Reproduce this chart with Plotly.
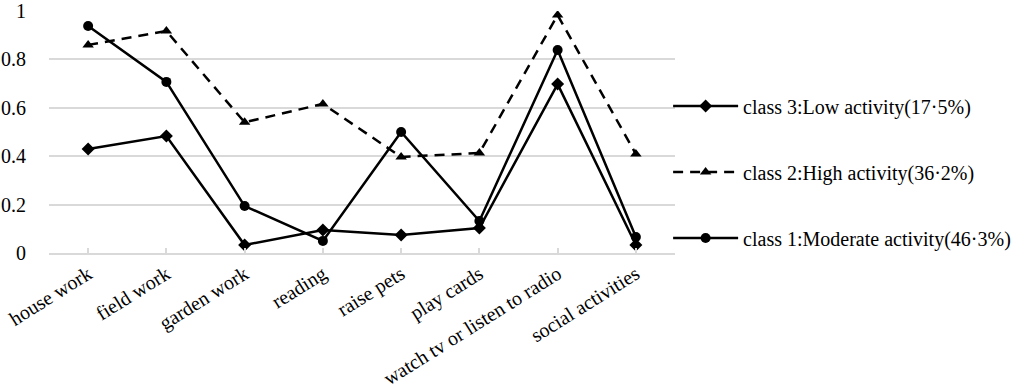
import plotly.graph_objects as go

categories = ["house work", "field work", "garden work", "reading", "raise pets",
              "play cards", "watch tv or listen to radio", "social activities"]
class3_low = [0.43, 0.483, 0.033, 0.095, 0.074, 0.103, 0.698, 0.033]
class2_high = [0.86, 0.917, 0.54, 0.616, 0.397, 0.413, 0.983, 0.409]
class1_moderate = [0.938, 0.707, 0.194, 0.05, 0.5, 0.132, 0.839, 0.066]
names = ["class 3:Low activity(17·5%)", "class 2:High activity(36·2%)",
         "class 1:Moderate activity(46·3%)"]
y_ticks = [0, 0.2, 0.4, 0.6, 0.8, 1]

fig = go.Figure()
fig.add_trace(go.Scatter(x=categories, y=class3_low, name=names[0], mode="lines+markers",
                         line=dict(color="black", width=2.5),
                         marker=dict(symbol="diamond", size=10, color="black"),
                         legendgroup="a"))
fig.add_trace(go.Scatter(x=categories, y=class2_high, name=names[1], mode="lines+markers",
                         line=dict(color="black", width=2.5, dash="10px,7px"),
                         marker=dict(symbol="triangle-up", size=10, color="black"),
                         legendgroup="b"))
fig.add_trace(go.Scatter(x=categories, y=class1_moderate, name=names[2], mode="lines+markers",
                         line=dict(color="black", width=2.5),
                         marker=dict(symbol="circle", size=10, color="black"),
                         legendgroup="c"))

fig.update_layout(
    width=1021, height=387,
    margin=dict(l=49, r=346, t=11, b=134, autoexpand=False),
    plot_bgcolor="white", paper_bgcolor="white",
    font=dict(family="Liberation Serif", size=20, color="black"),
    showlegend=True,
    legend=dict(x=0.989, xanchor="left", y=0.335, yanchor="middle",
                itemwidth=65, tracegroupgap=37, font=dict(size=20),
                bgcolor="rgba(0,0,0,0)"),
    xaxis=dict(showgrid=False, tickangle=-32, ticks="inside", ticklen=5,
               tickcolor="#d9d9d9", tickwidth=1.5, showline=True,
               linecolor="#d9d9d9", linewidth=1.5, range=[-0.5, 7.5],
               automargin=False),
    yaxis=dict(range=[0, 1], tickvals=y_ticks, showgrid=True, gridcolor="#d9d9d9",
               gridwidth=1.5, zeroline=False, showline=False, ticks="",
               ticklabelstandoff=22, automargin=False),
)
fig.write_html("out.html", config={"displayModeBar": False},
               post_script="document.body.style.margin='0';document.body.style.padding='0';")
